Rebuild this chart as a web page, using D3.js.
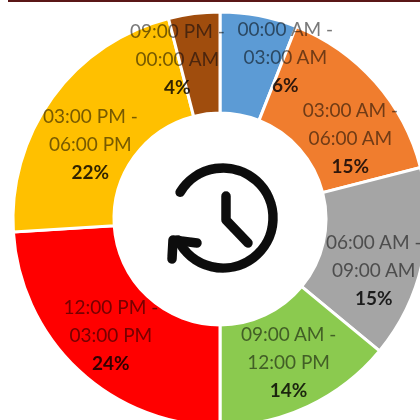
<!DOCTYPE html>
<html>
<head>
<meta charset="utf-8">
<script src="https://cdn.jsdelivr.net/npm/d3@7"></script>
<style>
html, body { margin: 0; padding: 0; background: #fff; }
svg { display: block; }
text { font-family: Lato, sans-serif; text-anchor: middle; }
.range { font-size: 19px; fill: #606060; fill-opacity: .85; mix-blend-mode: multiply; }
.pct { font-size: 19px; font-weight: 700; fill: #1a1a1a; fill-opacity: .9; mix-blend-mode: multiply; }
</style>
</head>
<body>
<svg id="chart" width="420" height="420"></svg>
<script>
var rangeLines = [
    ["00:00 AM -", "03:00 AM"],
    ["03:00 AM -", "06:00 AM"],
    ["06:00 AM -", "09:00 AM"],
    ["09:00 AM -", "12:00 PM"],
    ["12:00 PM -", "03:00 PM"],
    ["03:00 PM -", "06:00 PM"],
    ["09:00 PM -", "00:00 AM"]
];
var shares = [6, 15, 15, 14, 24, 22, 4];
var colors = ["#5b9bd5", "#f07d2e", "#a5a5a5", "#8bca4f", "#ff0000", "#ffc000", "#a04d0e"];

// hand placed labels, as in the original, relative to each slice centroid
var labelShift = [[36, -8], [13, 22], [1, 17], [2, 1], [-2, 2], [-3, 17], [-23, -5]];

var width = 420, height = 420;
var cx = 220, cy = 219, outerR = 207, innerR = 106;

var svg = d3.select("#chart");

var defs = svg.append("defs");
defs.append("filter").attr("id", "soft")
    .append("feGaussianBlur").attr("stdDeviation", 0.6);

var root = svg.append("g").attr("filter", "url(#soft)");

root.append("rect")
    .attr("x", 8).attr("y", 0)
    .attr("width", width - 8).attr("height", 2)
    .attr("fill", "#5a1414");

var pie = d3.pie().sort(null).value(function(d) { return d; });
var arc = d3.arc().innerRadius(innerR).outerRadius(outerR);
var arcs = pie(shares);

var ring = root.append("g").attr("transform", "translate(" + cx + " " + cy + ")");

ring.selectAll("path")
    .data(arcs)
    .enter().append("path")
    .attr("d", arc)
    .attr("fill", function(d, i) { return colors[i]; })
    .attr("stroke", "#fff")
    .attr("stroke-width", 3);

var labels = ring.selectAll("g.label")
    .data(arcs)
    .enter().append("g")
    .attr("class", "label")
    .attr("transform", function(d, i) {
        var c = arc.centroid(d);
        return "translate(" + (c[0] + labelShift[i][0]) + " " + (c[1] + labelShift[i][1]) + ")";
    });

labels.each(function(d, i) {
    var g = d3.select(this);
    g.append("text").attr("class", "range").attr("y", -21).text(rangeLines[i][0]);
    g.append("text").attr("class", "range").attr("y", 7).text(rangeLines[i][1]);
    g.append("text").attr("class", "pct").attr("y", 35).text(shares[i] + "%");
});

// clock icon in the hole
var clock = root.append("g")
    .attr("transform", "translate(223 218)")
    .attr("fill", "none")
    .attr("stroke", "#0c0c0c")
    .attr("stroke-width", 9.5)
    .attr("stroke-linecap", "round")
    .attr("stroke-linejoin", "round");

var rad = Math.PI / 180;
var ringPath = d3.path();
ringPath.arc(0, 0, 50, (-59 - 90) * rad, (244 - 90) * rad);
clock.append("path").attr("d", ringPath.toString());

var line = d3.line();
clock.append("path").attr("d", line([[3, -22], [3, 2], [25, 25]]));
clock.append("path").attr("d", line([[-26, 25], [-50, 22], [-51, 41]]));
</script>
</body>
</html>
